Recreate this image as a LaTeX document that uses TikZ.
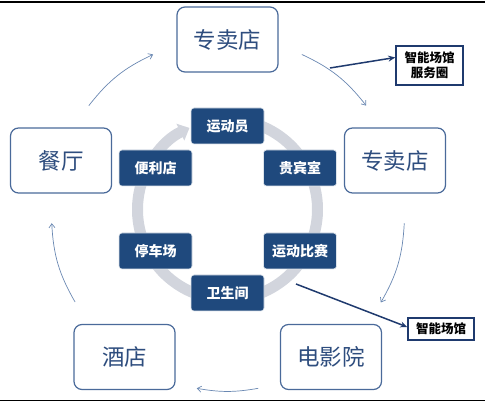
\documentclass[tikz,border=0pt]{standalone}
\usepackage{fontspec}
\usepackage{tikz}
\usetikzlibrary{arrows.meta, positioning, calc}
\usepackage{xcolor}
\newfontfamily\cjk{Noto Sans CJK SC}

\definecolor{boxblue}{HTML}{4A6A9A}
\definecolor{txtblue}{HTML}{2E4D7E}
\definecolor{navy}{HTML}{1F497D}
\definecolor{tagnavy}{HTML}{1F3A6E}
\definecolor{ringgray}{HTML}{D2D5DD}
\definecolor{arrblue}{HTML}{6A88B2}

\tikzset{
  outbox/.style={draw=boxblue, line width=1.2pt, rounded corners=8pt, fill=white,
    minimum width=101pt, minimum height=65pt, text=txtblue,
    font=\cjk\fontsize{22.5}{22.5}\selectfont},
  inbox/.style={draw=white!85!navy, line width=0.6pt, rounded corners=3pt, fill=navy,
    minimum width=73pt, minimum height=36pt, text=white,
    font=\cjk\bfseries\fontsize{14}{14}\selectfont},
  tagbox/.style={draw=tagnavy, line width=1.5pt, fill=white, inner sep=2pt,
    align=center, font=\cjk\bfseries\fontsize{12.5}{15}\selectfont},
  thinarr/.style={draw=arrblue, line width=0.7pt, -{Straight Barb[length=4pt, width=6pt]}},
  darkarr/.style={draw=tagnavy, line width=1.5pt, -{Stealth[length=7pt, width=6pt]}}
}

\begin{document}
\begin{tikzpicture}[x=1pt, y=1pt]
    \useasboundingbox (0,0) rectangle (485,404);
    \draw[line width=1.2pt] (0,402) -- (485,402);
    \draw[line width=1.4pt] (0,3.3) -- (485,3.3);

    % gray ring
    \coordinate (R) at (227.5,194.5);
    \draw[ringgray, line width=11pt, -{Triangle[length=10pt, width=18pt]}]
        (R) ++(80:90) arc[start angle=80, end angle=-245, radius=90];

    % inner nodes
    \node[inbox] (athlete) at (227.5,278) {运动员};
    \node[inbox] (shop) at (155.5,236) {便利店};
    \node[inbox] (vip) at (300,236) {贵宾室};
    \node[inbox] (park) at (155.5,153) {停车场};
    \node[inbox] (match) at (300,153) {运动比赛};
    \node[inbox] (wc) at (227.5,111) {卫生间};

    % outer nodes
    \node[outbox] (store1) at (227.5,364.5) {专卖店};
    \node[outbox] (store2) at (395,243.5) {专卖店};
    \node[outbox] (cinema) at (331,47) {电影院};
    \node[outbox] (hotel) at (124.5,47) {酒店};
    \node[outbox] (diner) at (61,243.5) {餐厅};

    % outer cycle
    \coordinate (O) at (227.5,190);
    \path (O) ++(142:176) coordinate (a1) (O) ++(115:176) coordinate (b1)
          (O) ++(65:176) coordinate (a2) (O) ++(38:176) coordinate (b2)
          (O) ++(-3:177) coordinate (a3) (O) ++(-30:177) coordinate (b3)
          (O) ++(-80:177) coordinate (a4) (O) ++(-100:177) coordinate (b4)
          (O) ++(210:176) coordinate (a5) (O) ++(183:176) coordinate (b5);
    \draw[thinarr] (a1) to[bend left=13.5] (b1);
    \draw[thinarr] (a2) to[bend left=13.5] (b2);
    \draw[thinarr] (a3) to[bend left=13.5] (b3);
    \draw[thinarr] (a4) to[bend left=10] (b4);
    \draw[thinarr] (a5) to[bend left=13.5] (b5);

    % tags
    \node[tagbox, minimum width=67pt, minimum height=39pt] (zone) at (429.5,338.5) {智能场馆\\服务圈};
    \node[tagbox, minimum width=66pt, minimum height=22pt] (venue) at (441,75) {智能场馆};
    \coordinate (p1) at (330,336);
    \coordinate (p2) at (296,120);
    \draw[darkarr] (p1) -- ([yshift=8pt]zone.west);
    \draw[darkarr] (p2) -- ([yshift=2pt]venue.west);
\end{tikzpicture}
\end{document}
